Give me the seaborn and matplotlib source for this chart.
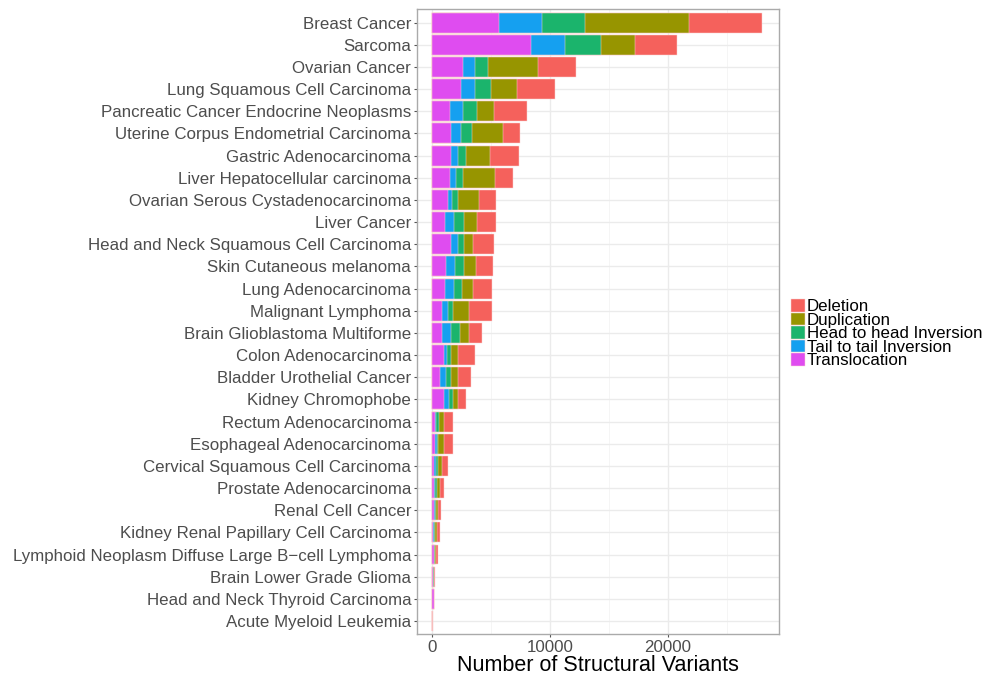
import numpy as np
import pandas as pd
import matplotlib
matplotlib.use("Agg")
import matplotlib.pyplot as plt
import matplotlib.patches as mpatches
from matplotlib.ticker import MultipleLocator
import seaborn as sns

categories = [
    "Breast Cancer", "Sarcoma", "Ovarian Cancer", "Lung Squamous Cell Carcinoma",
    "Pancreatic Cancer Endocrine Neoplasms", "Uterine Corpus Endometrial Carcinoma",
    "Gastric Adenocarcinoma", "Liver Hepatocellular carcinoma",
    "Ovarian Serous Cystadenocarcinoma", "Liver Cancer",
    "Head and Neck Squamous Cell Carcinoma", "Skin Cutaneous melanoma",
    "Lung Adenocarcinoma", "Malignant Lymphoma", "Brain Glioblastoma Multiforme",
    "Colon Adenocarcinoma", "Bladder Urothelial Cancer", "Kidney Chromophobe",
    "Rectum Adenocarcinoma", "Esophageal Adenocarcinoma",
    "Cervical Squamous Cell Carcinoma", "Prostate Adenocarcinoma", "Renal Cell Cancer",
    "Kidney Renal Papillary Cell Carcinoma",
    "Lymphoid Neoplasm Diffuse Large B\u2212cell Lymphoma", "Brain Lower Grade Glioma",
    "Head and Neck Thyroid Carcinoma", "Acute Myeloid Leukemia",
]

translocation = [5690, 8390, 2580, 2410, 1480, 1590, 1560, 1480, 1330, 1050, 1560, 1190, 1100, 850,
                 820, 970, 630, 1020, 230, 230, 140, 110, 110, 85, 100, 30, 100, 0]
tail_to_tail = [3600, 2910, 1050, 1240, 1160, 850, 620, 530, 370, 820, 600, 760, 710, 480,
                790, 280, 510, 400, 110, 140, 170, 140, 120, 85, 80, 30, 10, 0]
head_to_head = [3700, 3010, 1100, 1330, 1160, 960, 680, 620, 460, 800, 560, 770, 730, 450,
                740, 370, 450, 370, 230, 140, 170, 170, 90, 85, 60, 60, 10, 0]
duplication = [8780, 2940, 4270, 2180, 1470, 2630, 2060, 2720, 1840, 1160, 770, 990, 940, 1360,
               790, 540, 570, 430, 430, 460, 340, 200, 200, 113, 80, 40, 10, 0]
deletion = [6250, 3540, 3230, 3280, 2800, 1390, 2460, 1480, 1440, 1590, 1760, 1440, 1590, 1930,
            1050, 1440, 1100, 600, 760, 790, 490, 350, 230, 255, 160, 100, 40, 30]

# stacking order left -> right
types = ["Translocation", "Tail to tail Inversion", "Head to head Inversion", "Duplication", "Deletion"]
series = [translocation, tail_to_tail, head_to_head, duplication, deletion]
colors = {
    "Deletion": "#F5615C",
    "Duplication": "#979500",
    "Head to head Inversion": "#1BB46C",
    "Tail to tail Inversion": "#15A0F0",
    "Translocation": "#DF4CF0",
}
legend_order = ["Deletion", "Duplication", "Head to head Inversion", "Tail to tail Inversion", "Translocation"]

df = pd.DataFrame({"cancer": categories})
cum = np.zeros(len(categories))
for t, s in zip(types, series):
    cum = cum + np.array(s, dtype=float)
    df[t] = cum

plt.rcParams["font.family"] = ["Liberation Sans", "DejaVu Sans"]

W, H = 985, 677
fig = plt.figure(figsize=(W / 100, H / 100), dpi=100)
L, R, T, B = 416.7, 779.0, 9.3, 634.3
ax = fig.add_axes([L / W, 1 - B / H, (R - L) / W, (B - T) / H])

for t in reversed(types):
    sns.barplot(data=df, x=t, y="cancer", order=categories, orient="h", color=colors[t],
                saturation=1, width=0.9, edgecolor="#FAD2D2", linewidth=0.35, ax=ax, zorder=3)

ax.set_xlim(-1330, 29460)
ax.set_ylim(len(categories) - 0.4, -0.6)
ax.xaxis.set_major_locator(MultipleLocator(10000))
ax.xaxis.set_minor_locator(MultipleLocator(5000))
ax.set_axisbelow(True)
ax.grid(True, which="major", axis="both", color="#EBEBEB", linewidth=1.0, zorder=0)
ax.grid(True, which="minor", axis="x", color="#F4F4F4", linewidth=0.6, zorder=0)
ax.set_facecolor("white")
for sp in ax.spines.values():
    sp.set_color("#AAAAAA")
    sp.set_linewidth(1.0)

ax.tick_params(axis="both", which="major", length=2.5, width=0.8, color="#555555",
               labelsize=12.2, labelcolor="#4D4D4D", pad=1.5)
ax.tick_params(axis="x", which="minor", length=0)
ax.set_ylabel("")
ax.set_xlabel("Number of Structural Variants", fontsize=15.5, color="black", labelpad=0)

handles = [mpatches.Patch(facecolor=colors[k], edgecolor="#FAD2D2", linewidth=0.35) for k in legend_order]
fig.legend(handles, legend_order, loc="upper left", bbox_to_anchor=(791 / W, 1 - 299 / H),
           frameon=False, fontsize=12.2, handlelength=0.8, handleheight=0.8,
           handletextpad=0.15, labelspacing=-0.11, borderpad=0, borderaxespad=0)

fig.savefig("out.png", dpi=100, facecolor="white")
